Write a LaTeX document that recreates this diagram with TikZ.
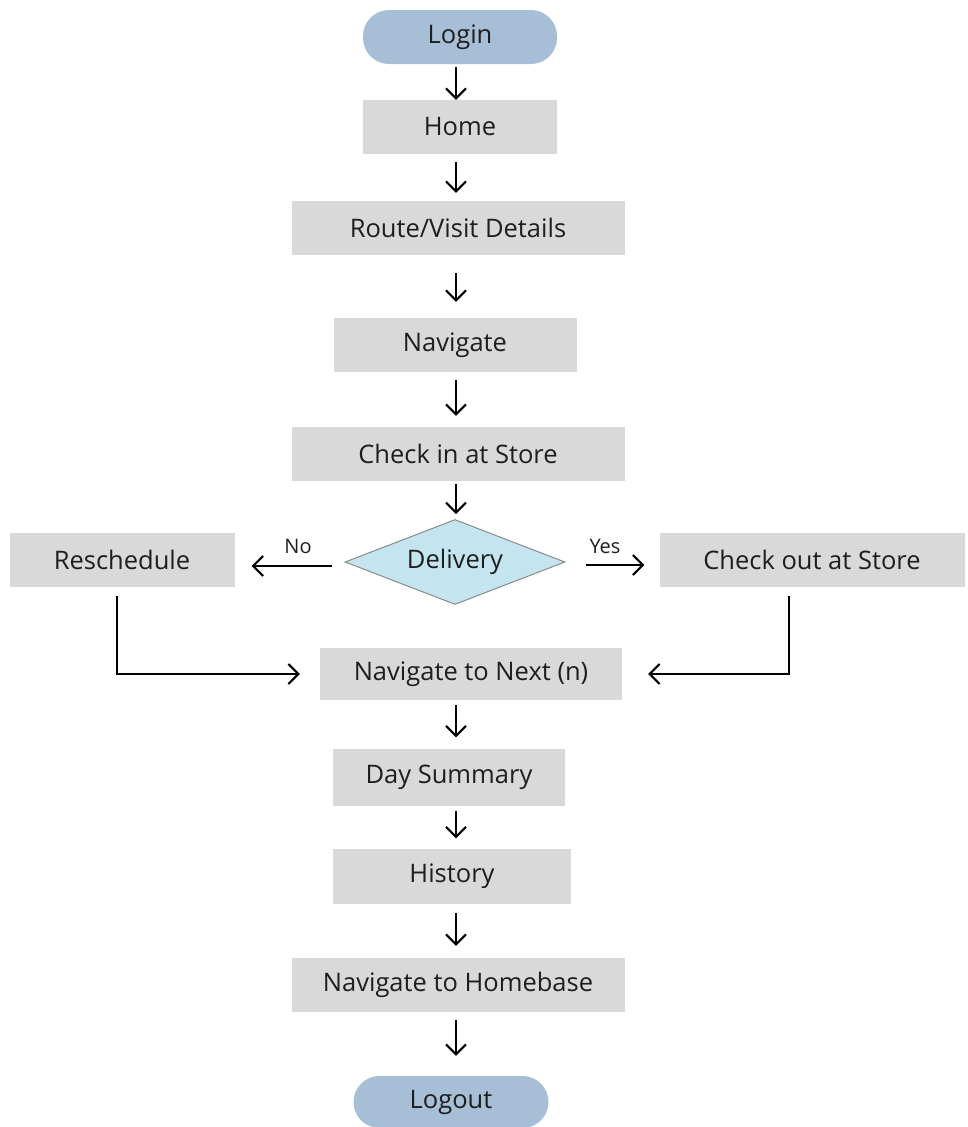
\documentclass[tikz,border=0pt]{standalone}
\usepackage{fontspec}
\setmainfont{Open Sans}
\usetikzlibrary{arrows.meta,shapes.geometric,calc}
\definecolor{boxgray}{HTML}{D9D9D9}
\definecolor{termblue}{HTML}{A6BED6}
\definecolor{diafill}{HTML}{C4E5EF}
\definecolor{diaedge}{HTML}{8A8A8A}
\definecolor{txt}{HTML}{1E1E1E}
\begin{document}
\begin{tikzpicture}[x=1pt,y=-1pt,
  every node/.style={text=txt,font=\fontsize{25.5}{28}\selectfont},
  procbox/.style={rectangle,fill=boxgray,inner sep=0pt,minimum height=54pt},
  termbox/.style={rectangle,rounded corners=26pt,fill=termblue,inner sep=0pt,minimum height=54pt},
  decbox/.style={diamond,fill=diafill,draw=diaedge,line width=1pt,inner sep=0pt,minimum width=220pt,minimum height=85pt,aspect=2.59},
  flow/.style={draw=black,line width=2pt,-{Straight Barb[length=10pt,width=20pt,line width=2pt]}},
  small/.style={font=\fontsize{20}{23}\selectfont}
]
\useasboundingbox (0,0) rectangle (968,1127);
\coordinate (ax) at (456,0);

\node[termbox,minimum width=194pt] (login) at (460,37) {Login};
\node[procbox,minimum width=194pt] (home) at (460,127) {Home};
\node[procbox,minimum width=333pt] (route) at (458,228) {Route/Visit Details};
\node[procbox,minimum width=243pt] (nav) at (455,345) {Navigate};
\node[procbox,minimum width=333pt] (checkin) at (458,454) {Check in at Store};
\node[decbox] (dia) at (455,562) {Delivery};
\node[procbox,minimum width=225pt] (resch) at (122,560) {Reschedule};
\node[procbox,minimum width=305pt] (checkout) at (812,560) {Check out at Store};
\node[procbox,minimum width=302pt,minimum height=52pt] (next) at (471,674) {Navigate to Next (n)};
\node[procbox,minimum width=232pt,minimum height=57pt] (day) at (449,777) {Day Summary};
\node[procbox,minimum width=238pt,minimum height=55pt] (hist) at (452,876) {History};
\node[procbox,minimum width=333pt] (homebase) at (458,985) {Navigate to Homebase};
\node[termbox,minimum width=195pt,minimum height=52pt] (logout) at (451,1102) {Logout};

\draw[flow,shorten <=3pt,shorten >=0pt] (login.south -| ax) -- (home.north -| ax);
\draw[flow,shorten <=8pt,shorten >=8pt] (home.south -| ax) -- (route.north -| ax);
\draw[flow,shorten <=18pt,shorten >=16pt] (route.south -| ax) -- (nav.north -| ax);
\draw[flow,shorten <=8pt,shorten >=11pt] (nav.south -| ax) -- (checkin.north -| ax);
\draw[flow,shorten <=3pt,shorten >=5pt] (checkin.south -| ax) -- (dia.north -| ax);
\draw[flow,shorten <=5pt,shorten >=11pt] (next.south -| ax) -- (day.north -| ax);
\draw[flow,shorten <=5pt,shorten >=10pt] (day.south -| ax) -- (hist.north -| ax);
\draw[flow,shorten <=9pt,shorten >=12pt] (hist.south -| ax) -- (homebase.north -| ax);
\draw[flow,shorten <=8pt,shorten >=20pt] (homebase.south -| ax) -- (logout.north -| ax);

\draw[flow,shorten <=13pt,shorten >=17pt] ($(dia.west)+(0,4)$) -- ($(resch.east)+(0,6)$);
\draw[flow,shorten <=20pt,shorten >=15pt] ($(dia.east)+(0,3)$) -- ($(checkout.west)+(0,5)$);
\node[small] (no) at (298,546) {No};
\node[small] (yes) at (605,546) {Yes};

\draw[flow,shorten <=9pt,shorten >=20pt,line join=miter] ($(resch.south)+(-5,0)$) |- (next.west);
\draw[flow,shorten <=9pt,shorten >=26pt,line join=miter] ($(checkout.south)+(-23,0)$) |- (next.east);
\end{tikzpicture}
\end{document}
